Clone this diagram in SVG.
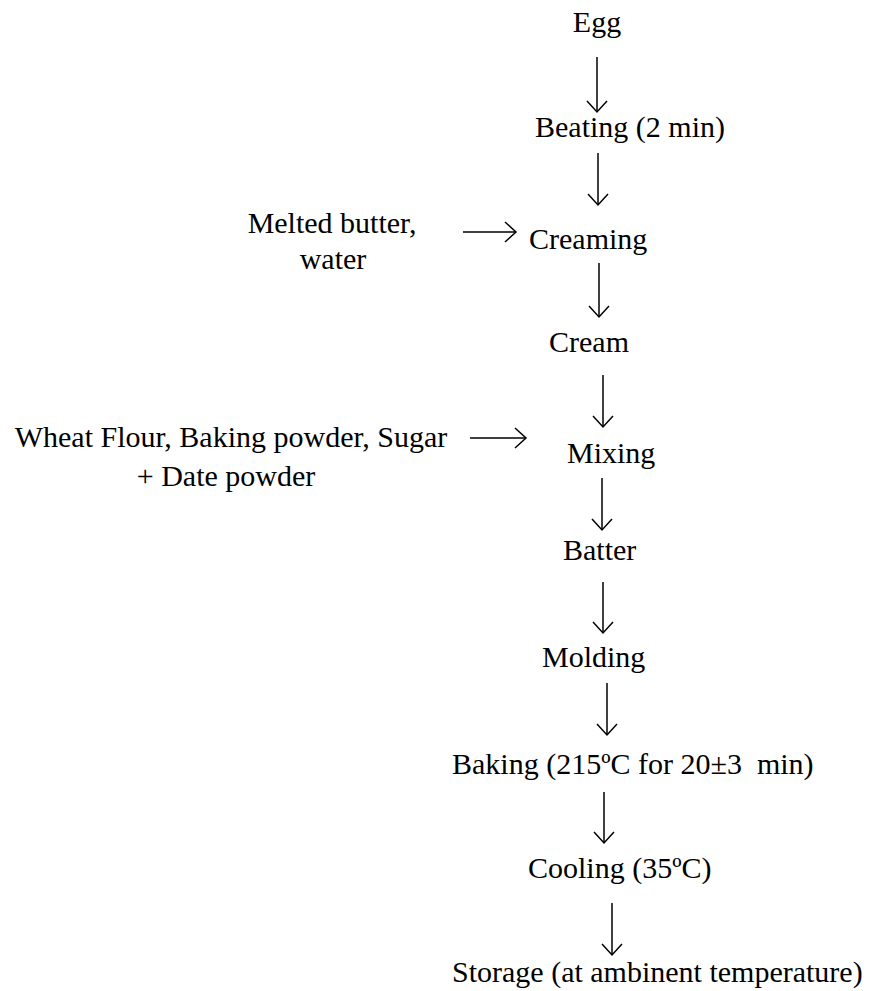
<svg xmlns="http://www.w3.org/2000/svg" width="875" height="991" viewBox="0 0 875 991">
<style>
.t{font-family:'Liberation Serif','Times New Roman',Tinos,'DejaVu Serif',serif;font-size:30px;fill:#000}
.c{stroke:#000;stroke-width:1.5;fill:none}
</style>
<defs>
<marker id="ah" markerUnits="userSpaceOnUse" markerWidth="30" markerHeight="30" refX="15" refY="15" orient="auto" viewBox="0 0 30 30">
<path d="M4,5 L15,15 L4,25" fill="none" stroke="#000" stroke-width="1.5"/>
</marker>
</defs>
<rect width="875" height="991" fill="#fff"/>
<g id="connectors">
<line class="c" x1="597" y1="57" x2="597" y2="112" marker-end="url(#ah)"/>
<line class="c" x1="598" y1="153" x2="598" y2="205" marker-end="url(#ah)"/>
<line class="c" x1="463" y1="232" x2="516" y2="232" marker-end="url(#ah)"/>
<line class="c" x1="599" y1="263" x2="599" y2="317" marker-end="url(#ah)"/>
<line class="c" x1="603" y1="375" x2="603" y2="427" marker-end="url(#ah)"/>
<line class="c" x1="470" y1="438" x2="526" y2="438" marker-end="url(#ah)"/>
<line class="c" x1="602" y1="478" x2="602" y2="530" marker-end="url(#ah)"/>
<line class="c" x1="603" y1="582" x2="603" y2="633" marker-end="url(#ah)"/>
<line class="c" x1="607" y1="683" x2="607" y2="735" marker-end="url(#ah)"/>
<line class="c" x1="604" y1="792" x2="604" y2="843" marker-end="url(#ah)"/>
<line class="c" x1="612" y1="903" x2="612" y2="955" marker-end="url(#ah)"/>
</g>
<g class="t">
<g id="egg"><text x="597" y="32" text-anchor="middle">Egg</text></g>
<g id="beating"><text x="535" y="137">Beating (2 min)</text></g>
<g id="butter"><text x="332" y="233" text-anchor="middle">Melted butter,</text><text x="333" y="269" text-anchor="middle">water</text></g>
<g id="creaming"><text x="529" y="249">Creaming</text></g>
<g id="cream"><text x="549" y="352">Cream</text></g>
<g id="flour"><text x="231" y="447" text-anchor="middle">Wheat Flour, Baking powder, Sugar</text><text x="226" y="486" text-anchor="middle">+ Date powder</text></g>
<g id="mixing"><text x="567" y="463">Mixing</text></g>
<g id="batter"><text x="563" y="560">Batter</text></g>
<g id="molding"><text x="542" y="667">Molding</text></g>
<g id="baking"><text x="452" y="774">Baking (215ºC for 20±3 &#160;min)</text></g>
<g id="cooling"><text x="528" y="878">Cooling (35ºC)</text></g>
<g id="storage"><text x="452" y="982">Storage (at ambinent temperature)</text></g>
</g>
</svg>
